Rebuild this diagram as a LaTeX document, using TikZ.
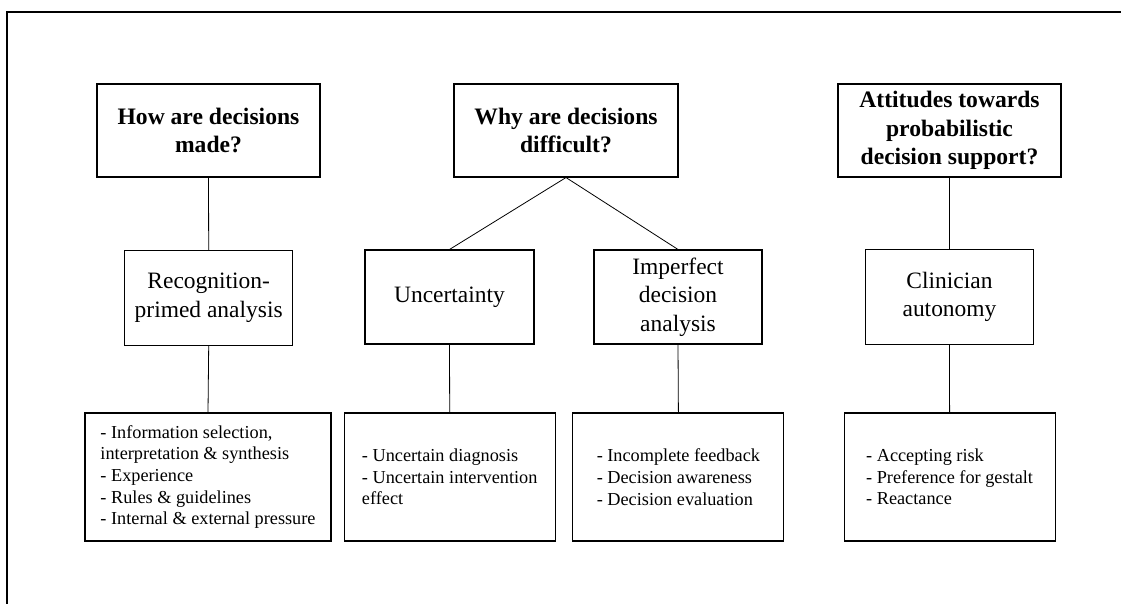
\documentclass[tikz,border=0pt]{standalone}
\usepackage{fontspec}
\setmainfont{Liberation Serif}
\begin{document}
\begin{tikzpicture}[x=0.75pt,y=-0.75pt,
  box/.style={draw, line width=0.8pt, rectangle, inner sep=0pt, align=center},
  question/.style={box, font=\fontsize{17.7}{21.2}\selectfont\bfseries},
  theme/.style={box, font=\fontsize{17.6}{21.2}\selectfont},
  detail/.style={box, align=left, minimum width=211*0.75pt, minimum height=128*0.75pt,
                 font=\fontsize{13.7}{16.3}\selectfont},
  link/.style={line width=0.6pt}]
\useasboundingbox (0,0) rectangle (1121,604);
% open frame: top and left edges
\draw[line width=1.5pt] (1121,12) -- (7,12) -- (7,604);

% research questions
\node[question, minimum width=223*0.75pt, minimum height=93*0.75pt] (how) at (208.5,130.5)
  {How are decisions\\made?};
\node[question, minimum width=224*0.75pt, minimum height=93*0.75pt] (why) at (566,130.5)
  {Why are decisions\\difficult?};
\node[question, minimum width=223*0.75pt, minimum height=93*0.75pt] (att) at (949.5,130.5)
  {Attitudes towards\\probabilistic\\decision support?};

% themes
\node[theme, minimum width=168*0.75pt, minimum height=95*0.75pt] (rpa) at (208.7,297.8)
  {Recognition-\\primed analysis};
\node[theme, minimum width=169*0.75pt, minimum height=94*0.75pt] (unc) at (449.5,297)
  {Uncertainty};
\node[theme, minimum width=168*0.75pt, minimum height=94*0.75pt] (imp) at (678,297)
  {Imperfect\\decision\\analysis};
\node[theme, minimum width=168*0.75pt, minimum height=95*0.75pt] (aut) at (949.5,297.2)
  {Clinician\\autonomy};

% sub-themes
\node[detail, minimum width=246*0.75pt] (d1) at (208,477)
  {- Information selection,\\interpretation \& synthesis\\- Experience\\- Rules \& guidelines\\- Internal \& external pressure};
\node[detail] (d2) at (449.7,477)
  {- Uncertain diagnosis\\- Uncertain intervention\\effect};
\node[detail] (d3) at (678.4,477)
  {- Incomplete feedback\\- Decision awareness\\- Decision evaluation};
\node[detail] (d4) at (949.6,477)
  {- Accepting risk\\- Preference for gestalt\\- Reactance};

% connectors
\draw[link] (how.south) -- (rpa.north);
\draw[link] (rpa.south) -- (d1.north);
\draw[link] (why.south) -- (unc.north);
\draw[link] (why.south) -- (imp.north);
\draw[link] (unc.south) -- (d2.north);
\draw[link] (imp.south) -- (d3.north);
\draw[link] (att.south) -- (aut.north);
\draw[link] (aut.south) -- (d4.north);
\end{tikzpicture}
\end{document}
